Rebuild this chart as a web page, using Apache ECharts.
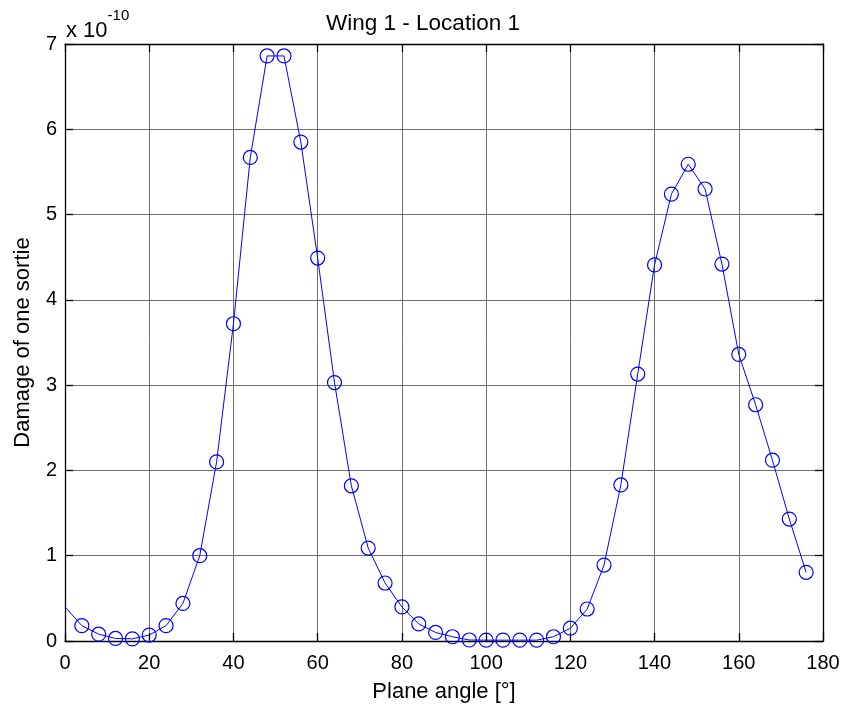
<!DOCTYPE html>
<html>
<head>
<meta charset="utf-8">
<script src="https://cdn.jsdelivr.net/npm/echarts@6/dist/echarts.min.js"></script>
<style>html,body{margin:0;padding:0;background:#fff;}#c{width:846px;height:713px;}</style>
</head>
<body>
<div id="c"></div>
<script>
// Plane angle [deg]
const angles = [0,4,8,12,16,20,24,28,32,36,40,44,48,52,56,60,64,68,72,76,80,84,88,92,96,100,104,108,112,116,120,124,128,132,136,140,144,148,152,156,160,164,168,172,176];
// Damage of one sortie (x 1e-10)
const damage = [0.40,0.18,0.08,0.03,0.025,0.07,0.18,0.44,1.0,2.1,3.72,5.67,6.86,6.86,5.85,4.49,3.03,1.82,1.09,0.68,0.40,0.20,0.10,0.05,0.012,0.01,0.01,0.01,0.01,0.05,0.15,0.375,0.89,1.83,3.13,4.41,5.24,5.59,5.30,4.42,3.36,2.77,2.12,1.43,0.805];
const xTicks = {min:0, max:180, step:20};
const yTicks = {min:0, max:7, step:1};

const font = 'Arial, "Liberation Sans", sans-serif';
const chart = echarts.init(document.getElementById('c'), null, {renderer:'canvas'});
const pts = angles.map((a,i)=> i===0 ? {value:[a,damage[i]], symbol:'none'} : [a,damage[i]]);

const axCommon = {
  axisLine:{show:true, onZero:false, lineStyle:{color:'#000', width:1.3}},
  axisTick:{show:true, inside:true, length:8, lineStyle:{color:'#000', width:1.3}},
};
chart.setOption({
  animation:false,
  title:{text:'Wing 1 - Location 1', left:'center', top:7, textStyle:{fontFamily:font, fontSize:22.5, fontWeight:'normal', color:'#000'}},
  grid:{left:65, right:23, top:44, bottom:72},
  xAxis:[
    Object.assign({type:'value', min:xTicks.min, max:xTicks.max, interval:xTicks.step, position:'bottom',
      name:'Plane angle [°]', nameLocation:'middle', nameGap:40,
      nameTextStyle:{fontFamily:font, fontSize:22, color:'#000'},
      axisLabel:{fontFamily:font, fontSize:20, color:'#000', margin:12},
      splitLine:{show:true, lineStyle:{color:'#6e6e6e', width:1}}}, axCommon),
    Object.assign({type:'value', min:xTicks.min, max:xTicks.max, interval:xTicks.step, position:'top',
      axisLabel:{show:false}, splitLine:{show:false}}, axCommon)
  ],
  yAxis:[
    Object.assign({type:'value', min:yTicks.min, max:yTicks.max, interval:yTicks.step, position:'left',
      name:'Damage of one sortie', nameLocation:'middle', nameGap:31,
      nameTextStyle:{fontFamily:font, fontSize:22, color:'#000'},
      axisLabel:{fontFamily:font, fontSize:20, color:'#000', margin:8},
      splitLine:{show:true, lineStyle:{color:'#6e6e6e', width:1}}}, axCommon),
    Object.assign({type:'value', min:yTicks.min, max:yTicks.max, interval:yTicks.step, position:'right',
      axisLabel:{show:false}, splitLine:{show:false}}, axCommon)
  ],
  graphic:[{
    type:'text', left:66, top:8,
    style:{text:'{a|x 10}{b|-10}', rich:{
      a:{fontFamily:font, fontSize:22, fill:'#000', verticalAlign:'bottom', padding:[12,0,0,0]},
      b:{fontFamily:font, fontSize:15, fill:'#000', verticalAlign:'top'}
    }}
  }],
  series:[{
    type:'line', data:pts, xAxisIndex:0, yAxisIndex:0,
    symbol:'circle', symbolSize:14, showAllSymbol:true,
    lineStyle:{color:'#0000ff', width:1},
    itemStyle:{color:'rgba(0,0,0,0)', borderColor:'#0000ff', borderWidth:1.2},
    clip:true, z:5
  }]
});
</script>
</body>
</html>
